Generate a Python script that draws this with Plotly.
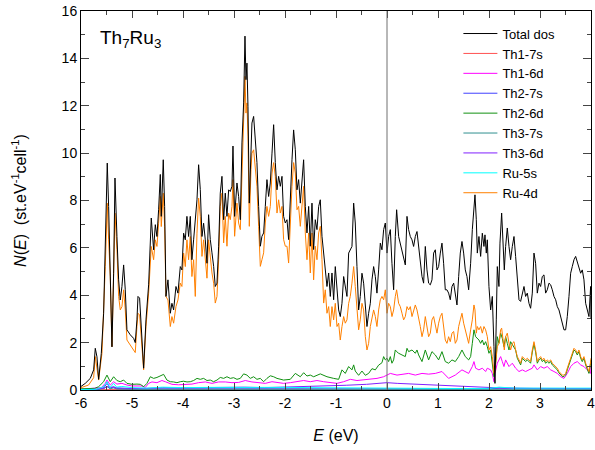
import plotly.graph_objects as go

# ---------------- data ----------------
total_E = [-6.0, -5.916, -5.818, -5.752, -5.720, -5.687, -5.654, -5.602, -5.556, -5.524, -5.485, -5.458, -5.426,
           -5.393, -5.360, -5.334, -5.295, -5.262, -5.230, -5.197, -5.164, -5.132, -5.099, -5.034, -4.968, -4.936,
           -4.903, -4.883, -4.851, -4.818, -4.772, -4.726, -4.674, -4.622, -4.576, -4.543, -4.511, -4.478, -4.445,
           -4.426, -4.387, -4.360, -4.334, -4.295, -4.249, -4.217, -4.184, -4.138, -4.099, -4.053, -4.021, -3.988,
           -3.955, -3.923, -3.890, -3.857, -3.825, -3.792, -3.759, -3.726, -3.694, -3.661, -3.628, -3.596, -3.563,
           -3.530, -3.498, -3.465, -3.432, -3.399, -3.367, -3.334, -3.301, -3.269, -3.236, -3.203, -3.171, -3.138,
           -3.105, -3.073, -3.040, -3.020, -2.988, -2.942, -2.909, -2.876, -2.844, -2.811, -2.785, -2.765, -2.746,
           -2.726, -2.700, -2.667, -2.648, -2.615, -2.582, -2.550, -2.517, -2.484, -2.452, -2.419, -2.386, -2.354,
           -2.321, -2.288, -2.255, -2.223, -2.190, -2.157, -2.125, -2.092, -2.059, -2.027, -1.994, -1.961, -1.929,
           -1.896, -1.863, -1.831, -1.798, -1.765, -1.733, -1.700, -1.667, -1.635, -1.602, -1.569, -1.536, -1.504,
           -1.471, -1.439, -1.406, -1.373, -1.340, -1.308, -1.275, -1.242, -1.210, -1.177, -1.144, -1.112, -1.079,
           -1.046, -1.014, -0.981, -0.948, -0.916, -0.883, -0.850, -0.818, -0.785, -0.752, -0.720, -0.687, -0.654,
           -0.622, -0.589, -0.556, -0.524, -0.491, -0.458, -0.425, -0.393, -0.360, -0.327, -0.295, -0.262, -0.229,
           -0.197, -0.164, -0.131, -0.099, -0.066, -0.033, 0.000, 0.032, 0.065, 0.097, 0.130, 0.163, 0.189, 0.228,
           0.261, 0.294, 0.326, 0.359, 0.392, 0.424, 0.457, 0.490, 0.522, 0.555, 0.588, 0.620, 0.653, 0.686, 0.718,
           0.751, 0.784, 0.816, 0.849, 0.882, 0.914, 0.947, 0.980, 1.012, 1.045, 1.078, 1.110, 1.143, 1.176, 1.208,
           1.241, 1.274, 1.307, 1.339, 1.372, 1.405, 1.437, 1.470, 1.503, 1.535, 1.568, 1.601, 1.640, 1.673, 1.705,
           1.725, 1.751, 1.771, 1.803, 1.836, 1.869, 1.901, 1.921, 1.947, 1.967, 1.999, 2.032, 2.065, 2.097, 2.117,
           2.143, 2.163, 2.195, 2.215, 2.248, 2.274, 2.300, 2.326, 2.359, 2.392, 2.424, 2.457, 2.490, 2.522, 2.555,
           2.588, 2.620, 2.653, 2.686, 2.718, 2.751, 2.784, 2.816, 2.849, 2.882, 2.914, 2.947, 2.980, 3.012, 3.045,
           3.078, 3.110, 3.143, 3.176, 3.209, 3.241, 3.274, 3.307, 3.339, 3.372, 3.405, 3.437, 3.470, 3.503, 3.535,
           3.568, 3.601, 3.633, 3.666, 3.699, 3.731, 3.764, 3.797, 3.829, 3.862, 3.895, 3.927, 3.960, 3.993, 4.0]
total_dos = [0.15, 0.28, 0.49, 0.85, 1.76, 1.4, 0.45, 1.55, 3.24, 6.34, 9.58, 7.75, 4.93,
             1.82, 4.93, 8.95, 6.48, 4.65, 3.8, 4.37, 5.28, 4.23, 2.54, 2.33, 2.18, 2.0,
             2.96, 3.95, 3.88, 2.68, 0.92, 2.96, 4.44, 7.26, 5.92, 6.98, 6.48, 7.61, 9.1,
             7.33, 9.72, 7.75, 3.95, 4.65, 3.24, 3.66, 3.38, 4.37, 4.09, 5.21, 5.07, 6.62,
             6.34, 7.33, 6.48, 7.33, 5.5, 6.34, 7.33, 8.03, 9.51, 8.46, 6.48, 7.04, 6.34,
             5.35, 7.4, 6.35, 5.79, 5.22, 4.37, 4.51, 6.07, 8.31, 9.02, 7.19, 8.31, 7.33,
             8.45, 8.38, 8.6, 10.3, 7.33, 8.74, 8.17, 7.19, 10.43, 12.12, 14.94, 13.1, 13.8,
             11.98, 7.89, 10.0, 11.27, 11.55, 10.3, 9.6, 7.75, 6.07, 6.49, 6.63, 7.75, 8.88,
             8.17, 8.74, 10.0, 11.2, 9.6, 8.45, 9.02, 8.6, 9.02, 7.33, 7.05, 7.19, 6.35,
             8.31, 9.72, 10.98, 10.14, 8.45, 8.88, 7.89, 8.88, 9.72, 7.75, 6.63, 7.75, 6.07,
             7.89, 5.93, 7.19, 6.77, 7.75, 8.03, 6.49, 5.79, 5.22, 4.37, 4.94, 3.95, 4.94,
             3.81, 5.21, 4.16, 3.38, 3.1, 3.66, 4.79, 4.37, 3.95, 5.78, 5.92, 6.06, 7.89,
             7.05, 5.21, 3.38, 3.95, 4.93, 4.51, 3.38, 2.68, 3.24, 3.66, 4.65, 5.21, 4.79,
             4.09, 5.07, 6.2, 5.92, 6.77, 7.05, 5.78, 6.48, 6.77, 5.35, 4.23, 6.48, 7.61, 6.48,
             6.2, 5.85, 5.64, 5.28, 7.33, 6.77, 6.48, 6.34, 6.06, 6.48, 6.69, 6.06, 5.64, 4.79, 4.51,
             6.06, 5.07, 4.51, 4.44, 4.65, 5.78, 5.92, 5.07, 5.21, 5.78, 6.2, 5.35, 4.23, 4.23, 4.09,
             3.81, 4.37, 4.51, 3.95, 3.59, 4.79, 5.78, 6.27, 5.78, 5.07, 4.79, 4.23, 5.35, 6.77, 7.61,
             8.24, 7.19, 5.78, 6.48, 5.64, 6.62, 6.06, 6.55, 5.78, 6.34, 4.37, 3.38, 3.95, 1.83, 0.28,
             2.96, 5.21, 4.37, 6.2, 7.47, 6.48, 5.07, 6.06, 6.84, 6.06, 5.5, 6.06, 6.48, 5.64, 4.65,
             3.81, 3.74, 4.09, 4.37, 3.95, 4.09, 3.66, 3.45, 4.09, 5.78, 5.35, 4.09, 4.51, 4.37, 4.79,
             4.86, 4.09, 4.23, 4.51, 4.44, 4.23, 3.95, 3.81, 3.52, 3.38, 3.1, 2.75, 2.54, 2.54, 3.1,
             3.95, 4.93, 5.21, 5.5, 5.64, 5.43, 5.21, 4.93, 5.07, 4.65, 3.66, 3.38, 3.1, 4.37, 3.0]

ru4d_E = [-6.0, -5.851, -5.752, -5.720, -5.654, -5.589, -5.524, -5.485, -5.458, -5.426, -5.393, -5.360, -5.334,
          -5.295, -5.262, -5.230, -5.197, -5.164, -5.132, -5.099, -5.034, -4.968, -4.936, -4.903, -4.883, -4.851,
          -4.818, -4.772, -4.726, -4.674, -4.622, -4.576, -4.543, -4.511, -4.478, -4.445, -4.426, -4.387, -4.360,
          -4.334, -4.295, -4.249, -4.217, -4.184, -4.138, -4.099, -4.053, -4.021, -3.988, -3.955, -3.923, -3.890,
          -3.857, -3.825, -3.792, -3.759, -3.726, -3.694, -3.661, -3.628, -3.596, -3.563, -3.530, -3.498, -3.465,
          -3.432, -3.399, -3.367, -3.334, -3.301, -3.269, -3.236, -3.203, -3.171, -3.138, -3.105, -3.073, -3.040,
          -3.020, -2.988, -2.942, -2.909, -2.876, -2.844, -2.811, -2.785, -2.765, -2.746, -2.726, -2.700, -2.667,
          -2.648, -2.615, -2.582, -2.550, -2.517, -2.484, -2.452, -2.419, -2.386, -2.354, -2.321, -2.288, -2.255,
          -2.223, -2.190, -2.157, -2.125, -2.092, -2.059, -2.027, -1.994, -1.961, -1.929, -1.896, -1.863, -1.831,
          -1.798, -1.765, -1.733, -1.700, -1.667, -1.635, -1.602, -1.569, -1.536, -1.504, -1.471, -1.439, -1.406,
          -1.373, -1.340, -1.308, -1.275, -1.242, -1.210, -1.177, -1.144, -1.112, -1.079, -1.046, -1.014, -0.981,
          -0.948, -0.916, -0.883, -0.850, -0.818, -0.785, -0.752, -0.720, -0.687, -0.654, -0.622, -0.589, -0.556,
          -0.524, -0.491, -0.458, -0.425, -0.393, -0.360, -0.327, -0.295, -0.262, -0.229, -0.197, -0.164, -0.131,
          -0.099, -0.066, -0.033, 0.000, 0.032, 0.065, 0.097, 0.130, 0.163, 0.189, 0.228, 0.261, 0.294, 0.326,
          0.359, 0.392, 0.424, 0.457, 0.490, 0.522, 0.555, 0.588, 0.620, 0.653, 0.686, 0.718, 0.751, 0.784, 0.816,
          0.849, 0.882, 0.914, 0.947, 0.980, 1.012, 1.045, 1.078, 1.110, 1.143, 1.176, 1.208, 1.241, 1.274, 1.307,
          1.339, 1.372, 1.405, 1.437, 1.470, 1.503, 1.535, 1.568, 1.601, 1.640, 1.673, 1.705, 1.725, 1.751, 1.771,
          1.803, 1.836, 1.869, 1.901, 1.934, 1.967, 1.999, 2.032, 2.065, 2.097, 2.117, 2.143, 2.163, 2.195, 2.228,
          2.248, 2.274, 2.300, 2.326, 2.359, 2.392, 2.424, 2.457, 2.490, 2.522, 2.555, 2.588, 2.620, 2.653, 2.686,
          2.718, 2.751, 2.784, 2.816, 2.849, 2.882, 2.914, 2.947, 2.980, 3.012, 3.045, 3.078, 3.110, 3.143, 3.176,
          3.209, 3.241, 3.274, 3.307, 3.339, 3.372, 3.405, 3.437, 3.470, 3.503, 3.535, 3.568, 3.601, 3.633, 3.666,
          3.699, 3.731, 3.764, 3.797, 3.829, 3.862, 3.895, 3.927, 3.960, 3.993, 4.0]
ru4d_dos = [0.1, 0.21, 0.52, 1.41, 0.42, 1.55, 5.21, 7.89, 6.34, 4.79, 1.83, 4.65, 7.47,
            5.92, 3.95, 3.38, 3.52, 4.23, 3.38, 2.11, 1.9, 1.72, 1.58, 2.68, 3.24, 3.17,
            2.25, 0.85, 2.68, 4.09, 6.06, 5.5, 6.34, 6.06, 7.04, 8.17, 6.9, 8.31, 6.9,
            3.95, 3.8, 2.68, 3.1, 2.82, 3.52, 3.8, 4.51, 4.37, 5.78, 5.21, 6.34, 5.5,
            6.48, 4.79, 5.5, 3.95, 6.62, 8.1, 7.33, 5.64, 6.34, 5.64, 4.72, 6.34, 5.5,
            4.94, 4.51, 3.67, 3.95, 5.5, 7.75, 8.31, 6.21, 7.33, 6.07, 7.47, 7.19, 7.75,
            8.88, 6.49, 7.89, 7.05, 6.77, 9.44, 11.41, 13.24, 11.69, 12.12, 10.72, 6.91, 9.3,
            10.0, 10.14, 9.44, 8.6, 6.91, 5.22, 5.5, 5.79, 7.05, 7.75, 7.33, 7.75, 9.16,
            9.6, 9.02, 7.47, 8.03, 7.47, 7.75, 6.35, 6.07, 6.07, 5.36, 7.19, 8.6, 9.6,
            9.16, 7.61, 7.75, 6.91, 7.75, 8.6, 6.63, 5.5, 6.63, 4.94, 6.63, 4.65, 6.07,
            5.5, 6.63, 6.91, 5.5, 3.67, 4.23, 3.24, 3.52, 2.68, 3.52, 2.96, 3.66, 2.68,
            2.82, 2.11, 2.68, 3.1, 2.82, 2.96, 3.66, 3.95, 4.51, 5.21, 4.37, 3.38, 2.54,
            2.96, 3.66, 3.38, 2.25, 1.69, 1.97, 2.68, 3.1, 3.38, 3.1, 2.68, 3.38, 3.81,
            3.95, 3.81, 4.23, 3.24, 3.66, 3.52, 3.1, 3.38, 3.95, 4.23, 3.66, 3.52, 3.24, 2.96,
            3.1, 3.52, 3.38, 3.52, 3.1, 3.38, 3.59, 3.38, 3.1, 2.68, 2.25, 2.54, 3.1, 2.68, 2.25,
            2.4, 2.96, 3.1, 2.68, 2.4, 2.82, 3.1, 3.24, 2.68, 2.11, 1.97, 2.25, 2.04, 2.4, 2.47,
            1.97, 2.11, 2.68, 2.96, 3.24, 2.82, 2.54, 2.25, 1.97, 2.54, 2.96, 3.59, 3.38, 2.4, 2.68,
            2.54, 2.68, 2.4, 2.68, 2.54, 2.25, 1.69, 1.83, 1.41, 0.7, 0.85, 1.41, 1.83, 1.97, 2.54,
            2.61, 2.11, 1.69, 2.25, 2.4, 1.97, 1.69, 1.97, 2.04, 1.69, 1.41, 1.27, 1.13, 1.41, 1.34,
            1.27, 1.34, 1.27, 1.2, 1.69, 2.04, 1.69, 1.2, 1.34, 1.41, 1.27, 1.34, 1.2, 1.27, 1.2,
            1.27, 1.13, 1.06, 0.99, 0.92, 0.78, 0.7, 0.63, 0.63, 0.7, 0.92, 1.13, 1.41, 1.62, 1.76,
            1.69, 1.55, 1.69, 1.41, 1.27, 1.41, 1.13, 0.92, 0.78, 1.2, 1.34]

th2_6d_E = [-6.0, -5.73, -5.654, -5.556, -5.491, -5.426, -5.360, -5.295, -5.230, -5.164, -5.099, -5.001, -4.903,
            -4.837, -4.772, -4.707, -4.641, -4.576, -4.511, -4.445, -4.380, -4.315, -4.249, -4.184, -4.119, -4.053,
            -3.988, -3.922, -3.857, -3.792, -3.726, -3.661, -3.596, -3.530, -3.465, -3.400, -3.334, -3.269, -3.203,
            -3.138, -3.073, -3.007, -2.942, -2.877, -2.811, -2.746, -2.681, -2.615, -2.550, -2.485, -2.419, -2.354,
            -2.288, -2.223, -2.157, -2.027, -1.896, -1.798, -1.700, -1.634, -1.569, -1.504, -1.438, -1.308, -1.177,
            -1.046, -0.948, -0.883, -0.818, -0.752, -0.687, -0.654, -0.622, -0.556, -0.491, -0.425, -0.360, -0.295,
            -0.229, -0.164, -0.099, -0.066, -0.033, 0.0, 0.032, 0.065, 0.097, 0.130, 0.163, 0.189, 0.228, 0.294,
            0.359, 0.392, 0.424, 0.490, 0.555, 0.588, 0.620, 0.686, 0.751, 0.816, 0.882, 0.947, 1.012, 1.078,
            1.143, 1.208, 1.274, 1.339, 1.405, 1.470, 1.535, 1.601, 1.640, 1.673, 1.705, 1.738, 1.771, 1.803,
            1.836, 1.869, 1.901, 1.934, 1.967, 1.999, 2.032, 2.065, 2.097, 2.117, 2.143, 2.163, 2.195, 2.228,
            2.261, 2.293, 2.326, 2.359, 2.392, 2.424, 2.457, 2.490, 2.522, 2.555, 2.588, 2.620, 2.653, 2.686,
            2.718, 2.751, 2.784, 2.816, 2.849, 2.882, 2.914, 2.947, 2.980, 3.012, 3.045, 3.078, 3.110, 3.143,
            3.176, 3.209, 3.241, 3.274, 3.307, 3.339, 3.372, 3.405, 3.437, 3.470, 3.503, 3.535, 3.568, 3.601,
            3.633, 3.666, 3.699, 3.731, 3.764, 3.797, 3.829, 3.862, 3.895, 3.927, 3.960, 3.993, 4.0]
th2_6d_dos = [0.05, 0.07, 0.14, 0.35, 0.63, 0.35, 0.56, 0.4, 0.35, 0.42, 0.28, 0.24, 0.25,
              0.24, 0.14, 0.28, 0.56, 0.49, 0.53, 0.59, 0.66, 0.42, 0.35, 0.34, 0.31, 0.35,
              0.37, 0.34, 0.35, 0.4, 0.49, 0.45, 0.49, 0.4, 0.42, 0.35, 0.42, 0.53, 0.49,
              0.56, 0.49, 0.52, 0.45, 0.49, 0.68, 0.63, 0.49, 0.56, 0.45, 0.49, 0.35, 0.49,
              0.6, 0.56, 0.49, 0.42, 0.45, 0.7, 0.56, 0.73, 0.59, 0.63, 0.56, 0.68, 0.56,
              0.49, 0.45, 0.85, 0.7, 0.99, 0.85, 1.06, 0.8, 0.62, 0.8, 0.62, 0.7, 0.9,
              0.85, 1.05, 1.15, 1.41, 1.27, 1.34, 1.2, 1.41, 1.13, 1.27, 1.69, 1.62, 1.55, 1.48,
              1.41, 1.76, 1.62, 1.69, 1.55, 1.69, 1.48, 1.2, 1.69, 1.27, 1.62, 1.48, 1.27, 1.62,
              1.2, 1.13, 1.27, 1.2, 1.41, 1.69, 1.41, 1.27, 1.41, 1.97, 2.54, 2.25, 2.18, 2.11,
              1.97, 2.11, 1.9, 2.04, 1.83, 1.55, 1.69, 1.13, 0.56, 0.85, 1.41, 2.25, 1.97, 2.4,
              2.18, 1.83, 2.25, 1.97, 1.69, 2.04, 1.9, 1.83, 1.69, 1.34, 1.2, 1.06, 1.34, 1.27,
              1.2, 1.27, 1.2, 1.13, 1.6, 1.95, 1.6, 1.13, 1.27, 1.34, 1.2, 1.27, 1.13, 1.2,
              1.13, 1.2, 1.06, 0.99, 0.92, 0.85, 0.72, 0.64, 0.57, 0.57, 0.64, 0.85, 1.06, 1.34,
              1.55, 1.69, 1.62, 1.48, 1.62, 1.34, 1.2, 1.34, 1.06, 0.85, 0.7, 1.13, 1.27]

th1_6d_E = [-6.0, -5.73, -5.60, -5.524, -5.491, -5.426, -5.360, -5.295, -5.197, -5.099, -5.001, -4.805, -4.739,
            -4.674, -4.609, -4.511, -4.413, -4.347, -4.217, -4.086, -3.955, -3.824, -3.694, -3.563, -3.432, -3.302,
            -3.171, -3.040, -2.909, -2.779, -2.648, -2.517, -2.387, -2.256, -2.157, -2.027, -1.896, -1.765, -1.634,
            -1.504, -1.373, -1.242, -1.112, -0.981, -0.850, -0.719, -0.589, -0.458, -0.327, -0.196, -0.066, 0.065,
            0.196, 0.327, 0.424, 0.555, 0.686, 0.816, 0.947, 1.078, 1.208, 1.339, 1.470, 1.601, 1.673, 1.705,
            1.738, 1.803, 1.869, 1.934, 1.967, 2.032, 2.065, 2.097, 2.117, 2.163, 2.228, 2.261, 2.293, 2.326,
            2.392, 2.457, 2.522, 2.588, 2.653, 2.718, 2.784, 2.849, 2.882, 2.947, 3.012, 3.078, 3.143, 3.209,
            3.274, 3.339, 3.405, 3.470, 3.535, 3.601, 3.666, 3.731, 3.797, 3.862, 3.927, 3.993, 4.0]
th1_6d_dos = [0.03, 0.06, 0.1, 0.28, 0.42, 0.21, 0.35, 0.25, 0.28, 0.21, 0.17, 0.17, 0.11,
              0.28, 0.34, 0.31, 0.4, 0.35, 0.24, 0.22, 0.22, 0.25, 0.31, 0.34, 0.28, 0.34,
              0.34, 0.31, 0.32, 0.4, 0.34, 0.31, 0.28, 0.35, 0.31, 0.28, 0.31, 0.35, 0.4,
              0.35, 0.4, 0.35, 0.31, 0.28, 0.35, 0.45, 0.4, 0.42, 0.45, 0.49, 0.56, 0.7,
              0.63, 0.68, 0.7, 0.63, 0.7, 0.67, 0.7, 0.78, 0.49, 0.63, 0.85, 0.7, 0.99, 1.2,
              0.92, 0.85, 0.92, 0.78, 0.92, 0.85, 0.7, 0.35, 0.7, 1.13, 1.41, 1.2, 0.99, 1.27,
              0.99, 1.13, 0.92, 0.78, 0.85, 0.78, 0.85, 0.92, 1.06, 0.85, 0.99, 0.92, 0.99, 0.85,
              0.78, 0.7, 0.56, 0.49, 0.7, 0.99, 1.13, 1.2, 1.06, 0.99, 0.85, 0.7, 0.99]

th3_6d_E = [-6.0, -5.7, -5.55, -5.49, -5.36, -5.2, -5.0, -4.7, -4.4, -4.0, -3.6, -3.2, -2.8, -2.4, -2.0,
            -1.6, -1.2, -0.8, -0.4, -0.1, 0.0, 0.2, 0.5, 0.8, 1.1, 1.4, 1.7, 2.0, 2.3, 2.6, 3.0, 3.4, 3.8, 4.0]
th3_6d_dos = [0.01, 0.03, 0.08, 0.14, 0.1, 0.07, 0.06, 0.07, 0.1, 0.09, 0.1, 0.12, 0.12, 0.1, 0.12,
              0.15, 0.17, 0.2, 0.24, 0.28, 0.31, 0.28, 0.25, 0.21, 0.18, 0.15, 0.12, 0.1, 0.08, 0.07, 0.06,
              0.06, 0.07, 0.06]

ru5s_E = [-6.0, -5.7, -5.55, -5.49, -5.43, -5.36, -5.3, -5.2, -5.0, -4.7, -4.4, -4.0, -3.5, -3.0, -2.5,
          -2.0, -1.5, -1.0, -0.5, 0.0, 0.5, 1.0, 1.5, 2.0, 2.2, 2.5, 3.0, 3.5, 4.0]
ru5s_dos = [0.02, 0.03, 0.15, 0.35, 0.1, 0.28, 0.12, 0.15, 0.1, 0.08, 0.12, 0.1, 0.11, 0.12, 0.1,
            0.11, 0.1, 0.09, 0.1, 0.08, 0.07, 0.06, 0.06, 0.07, 0.12, 0.08, 0.09, 0.1, 0.08]

th2_7s_E = [-6.0, -5.7, -5.55, -5.49, -5.43, -5.36, -5.3, -5.0, -4.5, -4.0, -3.0, -2.0, -1.0, 0.0, 1.0, 2.0,
            2.2, 3.0, 4.0]
th2_7s_dos = [0.01, 0.02, 0.1, 0.28, 0.08, 0.15, 0.06, 0.04, 0.05, 0.04, 0.05, 0.05, 0.04, 0.05, 0.04,
              0.05, 0.08, 0.06, 0.05]

th3_7s_E = [-6.0, -5.7, -5.55, -5.49, -5.43, -5.36, -5.3, -5.0, -4.0, -3.0, -2.0, -1.0, 0.0, 1.0, 2.0,
            3.0, 4.0]
th3_7s_dos = [0.01, 0.02, 0.06, 0.15, 0.05, 0.09, 0.04, 0.03, 0.03, 0.03, 0.03, 0.03, 0.03, 0.03, 0.03,
              0.03, 0.03]

th1_7s_E = [-6.0, -5.5, -5.0, -4.0, -3.0, -2.0, -1.0, 0.0, 1.0, 2.0, 2.5, 3.0, 3.5, 4.0]
th1_7s_dos = [0.01, 0.03, 0.02, 0.02, 0.02, 0.02, 0.02, 0.02, 0.03, 0.04, 0.05, 0.05, 0.05, 0.05]

x_tickvals = [-6, -5, -4, -3, -2, -1, 0, 1, 2, 3, 4]
x_ticktext = ["-6", "-5", "-4", "-3", "-2", "-1", "0", "1", "2", "3", "4"]
y_tickvals = [0, 2, 4, 6, 8, 10, 12, 14, 16]

# ---------------- figure ----------------
series = [
    ("Total dos", total_E, total_dos, "#000000", 1.0),
    ("Th1-7s", th1_7s_E, th1_7s_dos, "#ff5050", 1.0),
    ("Th1-6d", th1_6d_E, th1_6d_dos, "#ff00ff", 1.0),
    ("Th2-7s", th2_7s_E, th2_7s_dos, "#4040ff", 1.0),
    ("Th2-6d", th2_6d_E, th2_6d_dos, "#109010", 1.0),
    ("Th3-7s", th3_7s_E, th3_7s_dos, "#309090", 1.0),
    ("Th3-6d", th3_6d_E, th3_6d_dos, "#8020ff", 1.0),
    ("Ru-5s", ru5s_E, ru5s_dos, "#00ffff", 1.0),
    ("Ru-4d", ru4d_E, ru4d_dos, "#ff8000", 1.0),
]

fig = go.Figure()
# draw order: small components, then Ru-4d, then total on top
draw_order = [1, 2, 3, 4, 5, 6, 7, 8, 0]
for i in draw_order:
    name, xs, ys, col, w = series[i]
    fig.add_trace(go.Scatter(x=xs, y=ys, mode="lines", name=name,
                             line=dict(color=col, width=w), legendrank=i + 1))

fig.add_vline(x=0, line=dict(color="#707070", width=1))

font_family = "Liberation Sans, Arial, sans-serif"
fig.update_layout(
    width=595, height=450,
    margin=dict(l=81, r=4, t=11, b=60, autoexpand=False),
    paper_bgcolor="white", plot_bgcolor="white",
    font=dict(family=font_family, size=14, color="black"),
    showlegend=True,
    legend=dict(x=0.74, y=0.98, xanchor="left", yanchor="top",
                bgcolor="rgba(0,0,0,0)", font=dict(size=13),
                tracegroupgap=0, itemwidth=34, traceorder="normal"),
    annotations=[dict(text="Th<sub>7</sub>Ru<sub>3</sub>", x=0.034, y=0.962, xref="paper", yref="paper",
                      xanchor="left", yanchor="top", showarrow=False, font=dict(size=19))],
)
fig.update_xaxes(range=[-6, 4], tickvals=x_tickvals, ticktext=x_ticktext, automargin=True,
                 ticklabeloverflow="allow",
                 ticks="inside", ticklen=7, tickwidth=1, mirror="ticks",
                 showline=True, linecolor="black", linewidth=1, showgrid=False, zeroline=False,
                 minor=dict(dtick=0.5, ticks="inside", ticklen=4, tickwidth=1, showgrid=False),
                 title=dict(text="<i>E</i> (eV)", font=dict(size=16), standoff=20),
                 tickfont=dict(size=14))
fig.update_yaxes(range=[0, 16], tickvals=y_tickvals, automargin=True,
                 ticklabeloverflow="allow",
                 ticks="inside", ticklen=8, tickwidth=1, mirror="ticks",
                 showline=True, linecolor="black", linewidth=1, showgrid=False, zeroline=False,
                 minor=dict(dtick=1, ticks="inside", ticklen=4, tickwidth=1, showgrid=False),
                 title=dict(text="<i>N</i>(<i>E</i>)\u00a0\u00a0(st.eV<sup>-1</sup>cell<sup>-1</sup>)",
                            font=dict(size=16), standoff=31),
                 tickfont=dict(size=14))

fig.write_html("out.html", config={"displayModeBar": False},
               post_script="document.body.style.margin='0';")
